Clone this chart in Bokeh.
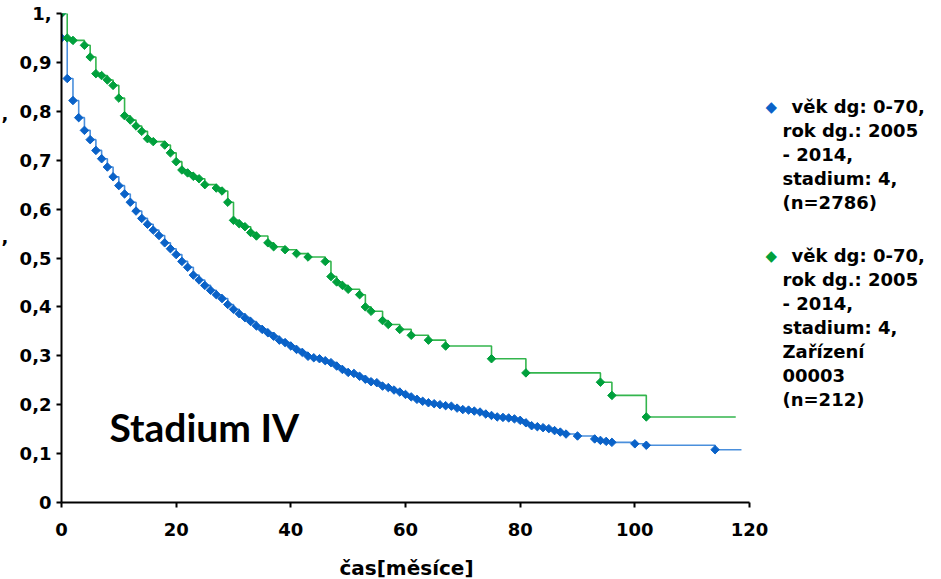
import numpy as np
from bokeh.plotting import figure
from bokeh.layouts import row, column
from bokeh.models import Range1d, Label, FixedTicker
from bokeh.core.properties import value
from bokeh.embed import file_html
from bokeh.resources import INLINE

# ---- data ----
blue_t = [0, 0, 1, 2, 3, 4, 5, 6, 7, 8, 9, 10, 11, 12, 13, 14, 15, 16, 17, 18, 19,
          20, 21, 22, 23, 24, 25, 26, 27, 28, 29, 30, 31, 32, 33, 34, 35, 36, 37, 38,
          39, 40, 41, 42, 43, 44, 45, 46, 47, 48, 49, 50, 51, 52, 53, 54, 55, 56, 57,
          58, 59, 60, 61, 62, 63, 64, 65, 66, 67, 68, 69, 70, 71, 72, 73, 74, 75, 76,
          77, 78, 79, 80, 81, 82, 83, 84, 85, 86, 87, 88, 90, 93, 94, 95, 96, 100, 102, 114]
blue_s = [1.0, 0.950, 0.867, 0.822, 0.787, 0.761, 0.742, 0.720, 0.703, 0.686, 0.666,
          0.648, 0.631, 0.614, 0.596, 0.581, 0.569, 0.557, 0.546, 0.531, 0.519,
          0.507, 0.493, 0.481, 0.465, 0.455, 0.444, 0.434, 0.425, 0.417, 0.405,
          0.395, 0.386, 0.378, 0.370, 0.361, 0.354, 0.347, 0.340, 0.332, 0.327,
          0.320, 0.313, 0.307, 0.299, 0.296, 0.294, 0.290, 0.286, 0.279, 0.272,
          0.266, 0.264, 0.258, 0.252, 0.247, 0.245, 0.238, 0.235, 0.230, 0.226,
          0.221, 0.216, 0.211, 0.207, 0.204, 0.202, 0.200, 0.198, 0.197, 0.193,
          0.190, 0.189, 0.187, 0.185, 0.181, 0.178, 0.175, 0.174, 0.173, 0.171,
          0.168, 0.163, 0.157, 0.155, 0.153, 0.151, 0.147, 0.144, 0.140, 0.136,
          0.130, 0.127, 0.125, 0.123, 0.120, 0.117, 0.108]
blue_end = 118.6

green_t = [0, 1, 2, 4, 5, 6, 7, 8, 9, 10, 11, 12, 13, 14, 15, 16, 18, 19, 20, 21, 22,
           23, 24, 25, 27, 28, 29, 30, 31, 32, 33, 34, 36, 37, 39, 41, 43, 46, 47, 48,
           49, 50, 52, 53, 54, 56, 57, 59, 61, 64, 67, 75, 81, 94, 96, 102]
green_s = [1.0, 0.950, 0.945, 0.935, 0.911, 0.877, 0.873, 0.864, 0.853, 0.827, 0.791,
           0.782, 0.770, 0.759, 0.744, 0.738, 0.731, 0.715, 0.697, 0.680, 0.674,
           0.667, 0.662, 0.650, 0.643, 0.637, 0.614, 0.577, 0.570, 0.564, 0.552,
           0.545, 0.531, 0.523, 0.517, 0.509, 0.502, 0.493, 0.462, 0.451, 0.444,
           0.436, 0.425, 0.400, 0.391, 0.372, 0.364, 0.354, 0.342, 0.332, 0.320,
           0.294, 0.265, 0.246, 0.219, 0.175]
green_end = 117.6

x_ticks = [0, 20, 40, 60, 80, 100, 120]
y_ticks = [0, 0.1, 0.2, 0.3, 0.4, 0.5, 0.6, 0.7, 0.8, 0.9, 1.0]
y_tick_labels = ["0", "0,1", "0,2", "0,3", "0,4", "0,5", "0,6", "0,7", "0,8", "0,9", "1,"]

x_title = "čas[měsíce]"
panel_title = "Stadium IV"
legend_blue = ["věk dg: 0-70,", "rok dg.: 2005", "- 2014,", "stadium: 4,", "(n=2786)"]
legend_green = ["věk dg: 0-70,", "rok dg.: 2005", "- 2014,", "stadium: 4,",
                "Zařízení", "00003", "(n=212)"]
y_title_fragments = [",", ","]

BLUE_M, BLUE_L = "#0a62c8", "#4a8fdc"
GREEN_M, GREEN_L = "#00a03c", "#33b54d"
FONT = "DejaVu Sans"
H_MAIN = 545
H_TITLE = 33
W_STRIP = 10
W_MAIN = 928

# ---- thin strip on the left with the clipped y-title fragments ----
strip = figure(width=W_STRIP, height=H_MAIN, output_backend="svg", toolbar_location=None,
               x_range=Range1d(0, W_STRIP), y_range=Range1d(H_MAIN, 0),
               min_border=0, outline_line_color=None)
strip.axis.visible = False
strip.grid.visible = False
strip.text(x=[1, 1], y=[112, 249], text=y_title_fragments, text_font=value(FONT),
           text_font_style="bold", text_font_size="18px", text_color="black",
           text_baseline="middle")

# ---- main chart ----
XMAX = 120 * 875 / 688  # frame extends to the right to host the legend
p = figure(width=W_MAIN, height=H_MAIN, output_backend="svg", toolbar_location=None,
           x_range=Range1d(0, XMAX), y_range=Range1d(0, 1.0),
           min_border_left=51, min_border_right=2, min_border_top=13,
           min_border_bottom=43)
p.outline_line_color = None
p.grid.visible = False

for ax in (p.xaxis[0], p.yaxis[0]):
    ax.axis_line_color = "black"
    ax.axis_line_width = 2
    ax.major_tick_line_color = "black"
    ax.major_tick_line_width = 2
    ax.major_tick_out = 5
    ax.major_tick_in = 0
    ax.minor_tick_line_color = None
    ax.major_label_text_font = FONT
    ax.major_label_text_font_style = "bold"
    ax.major_label_text_font_size = "18px"
    ax.major_label_text_color = "black"

p.xaxis.bounds = (0, 120)
p.xaxis.ticker = FixedTicker(ticks=x_ticks)
p.yaxis.ticker = FixedTicker(ticks=y_ticks)
p.yaxis.major_label_overrides = {t: l for t, l in zip(y_ticks, y_tick_labels)}
p.xaxis.major_label_standoff = 15
p.yaxis.major_label_standoff = 5

# curves
p.step(x=blue_t + [blue_end], y=blue_s + [blue_s[-1]], mode="after",
       line_color=BLUE_L, line_width=1.6)
p.scatter(x=blue_t, y=blue_s, marker="square", angle=np.pi / 4, size=6,
          fill_color=BLUE_M, line_color=BLUE_M)
p.step(x=green_t + [green_end], y=green_s + [green_s[-1]], mode="after",
       line_color=GREEN_L, line_width=1.6)
p.scatter(x=green_t, y=green_s, marker="square", angle=np.pi / 4, size=6,
          fill_color=GREEN_M, line_color=GREEN_M)

# panel title
p.add_layout(Label(x=0, y=0, x_offset=48, y_offset=76, text=panel_title,
                   text_font="Lato", text_font_style="bold",
                   text_font_size="39px", text_color="black",
                   text_baseline="alphabetic"))

# legend (inside the extended frame, right of the data area)
def legend_block(lines, color, top_px):
    p.add_layout(Label(x=120, y=1.0, x_offset=21.7, y_offset=-top_px, text="◆",
                       text_font=FONT, text_font_size="15px", text_color=color,
                       text_align="center", text_baseline="middle"))
    for i, line in enumerate(lines):
        p.add_layout(Label(x=120, y=1.0, x_offset=33 + (9 if i == 0 else 0),
                           y_offset=-(top_px + 24 * i), text=line,
                           text_font=FONT, text_font_style="bold",
                           text_font_size="18px", text_color="black",
                           text_baseline="middle"))

legend_block(legend_blue, BLUE_M, 93)
legend_block(legend_green, GREEN_M, 242)

# ---- x axis title strip below ----
W_ALL = W_STRIP + W_MAIN
tstrip = figure(width=W_ALL, height=H_TITLE, output_backend="svg", toolbar_location=None,
                x_range=Range1d(0, W_ALL), y_range=Range1d(H_TITLE, 0),
                min_border=0, outline_line_color=None)
tstrip.axis.visible = False
tstrip.grid.visible = False
tstrip.text(x=[406], y=[22], text=[x_title], text_font=value(FONT),
            text_font_style="bold", text_font_size="20px", text_color="black",
            text_align="center", text_baseline="middle")

layout = column(row(strip, p, spacing=0), tstrip, spacing=0)
open("out.html", "w").write(file_html(layout, INLINE))
